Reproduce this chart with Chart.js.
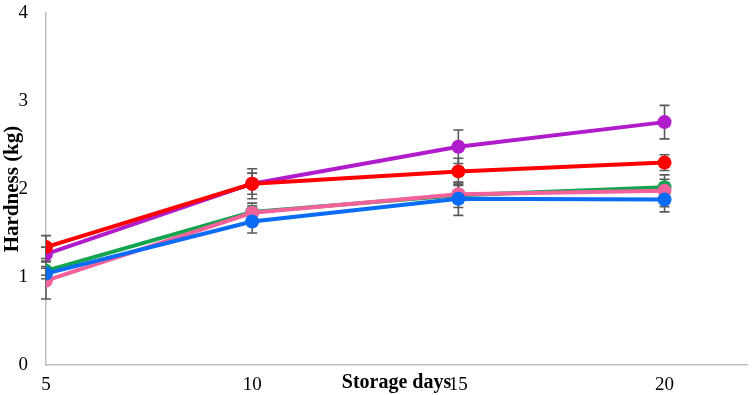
<!DOCTYPE html>
<html>
<head>
<meta charset="utf-8">
<script src="https://cdn.jsdelivr.net/npm/chart.js@4/dist/chart.umd.min.js"></script>
<style>
  html, body { margin: 0; padding: 0; background: #fff; }
  #wrap { width: 754px; height: 395px; }
</style>
</head>
<body>
<div id="wrap"><canvas id="myChart" width="754" height="395"></canvas></div>
<script>
//DATOS
const dias = [5, 10, 15, 20];
const ticksX = [5, 10, 15, 20];
const ticksY = [0, 1, 2, 3, 4];

const durezaRojo = [1.34, 2.06, 2.20, 2.30];
const durezaMorado = [1.26, 2.06, 2.48, 2.76];
const durezaVerde = [1.07, 1.74, 1.93, 2.02];
const durezaRosa = [0.96, 1.73, 1.94, 1.98];
const durezaAzul = [1.04, 1.63, 1.89, 1.88];

const errRojo = [0.13, 0.17, 0.15, 0.09];
const errMorado = [0.08, 0.12, 0.19, 0.19];
const errVerde = [0.05, 0.10, 0.14, 0.09];
const errRosa = [0.21, 0.08, 0.10, 0.18];
const errAzul = [0.06, 0.13, 0.19, 0.14];

const fuente = "'Liberation Serif', 'Times New Roman', serif";

function serie(valores, errores, color) {
  return {
    data: valores.map((v, i) => ({ x: dias[i], y: v })),
    errores: errores,
    borderColor: color,
    backgroundColor: color,
    borderWidth: 4,
    pointRadius: 7,
    pointHoverRadius: 7,
    pointBorderWidth: 0,
    tension: 0,
  };
}

// barras de error con las escalas del grafico
const barrasError = {
  id: "barrasError",
  beforeDatasetsDraw(chart) {
    const ctx = chart.ctx;
    const sx = chart.scales.x;
    const sy = chart.scales.y;
    ctx.save();
    ctx.strokeStyle = "#595959";
    ctx.lineWidth = 1.6;
    chart.data.datasets.forEach((ds) => {
      ds.data.forEach((p, i) => {
        const e = ds.errores[i];
        const px = sx.getPixelForValue(p.x);
        const y1 = sy.getPixelForValue(p.y + e);
        const y2 = sy.getPixelForValue(p.y - e);
        ctx.beginPath();
        ctx.moveTo(px, y1);
        ctx.lineTo(px, y2);
        ctx.moveTo(px - 5, y1);
        ctx.lineTo(px + 5, y1);
        ctx.moveTo(px - 5, y2);
        ctx.lineTo(px + 5, y2);
        ctx.stroke();
      });
    });
    ctx.restore();
  },
};

const data = {
  datasets: [
    serie(durezaRojo, errRojo, "#FF0000"),
    serie(durezaAzul, errAzul, "#0A6CF5"),
    serie(durezaRosa, errRosa, "#F2619A"),
    serie(durezaVerde, errVerde, "#13A54E"),
    serie(durezaMorado, errMorado, "#B01CCB"),
  ],
};

const config = {
  type: "line",
  data: data,
  plugins: [barrasError],
  options: {
    responsive: false,
    animation: false,
    layout: { padding: { top: 0, right: 3, left: 0, bottom: 0 } },
    plugins: {
      legend: { display: false },
      tooltip: { enabled: false },
    },
    scales: {
      x: {
        type: "linear",
        min: 5,
        max: 22,
        afterBuildTicks: (scale) => {
          scale.ticks = ticksX.map((v) => ({ value: v }));
        },
        afterFit: (scale) => {
          scale.height = 30;
        },
        grid: { display: false, drawTicks: false },
        border: { display: true, color: "#BFBFBF", width: 1.5 },
        ticks: {
          color: "#000",
          padding: 9,
          maxRotation: 0,
          font: { family: fuente, size: 19 },
        },
        title: {
          display: true,
          text: "Storage days",
          color: "#000",
          padding: 0,
          font: { family: fuente, size: 20, weight: "bold" },
        },
      },
      y: {
        min: 0,
        max: 4,
        afterBuildTicks: (scale) => {
          scale.ticks = ticksY.map((v) => ({ value: v }));
        },
        afterFit: (scale) => {
          scale.width = 46;
          scale.paddingTop = 13;
          scale.paddingBottom = 0;
        },
        grid: { display: false, drawTicks: false },
        border: { display: true, color: "#BFBFBF", width: 1.5 },
        ticks: {
          color: "#000",
          padding: 18,
          font: { family: fuente, size: 19 },
        },
        title: {
          display: true,
          text: "Hardness (kg)",
          color: "#000",
          padding: 0,
          font: { family: fuente, size: 21, weight: "bold" },
        },
      },
    },
  },
};

const myChart = new Chart(document.getElementById("myChart"), config);
</script>
</body>
</html>
